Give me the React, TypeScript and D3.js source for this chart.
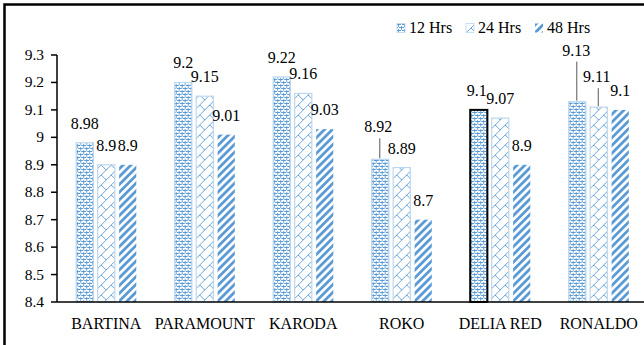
import * as d3 from "d3";

const categories = ["BARTINA", "PARAMOUNT", "KARODA", "ROKO", "DELIA RED", "RONALDO"];
const seriesNames = ["12 Hrs", "24 Hrs", "48 Hrs"];
const hrs12 = [8.98, 9.2, 9.22, 8.92, 9.1, 9.13];
const hrs24 = [8.9, 9.15, 9.16, 8.89, 9.07, 9.11];
const hrs48 = [8.9, 9.01, 9.03, 8.7, 8.9, 9.1];
const yTickValues = [8.4, 8.5, 8.6, 8.7, 8.8, 8.9, 9.0, 9.1, 9.2, 9.3];

// labels that Excel moved away from the bar (extra dx, dy, leader line)
const labelNudge: Record<string, [number, number, boolean]> = {
  "3-0": [-2, -13, true],
  "5-0": [-1, -32, true],
  "5-1": [-2, -11, true],
  "4-0": [-2, 0, false],
};

const blue = "#5b9bd5";
const txt = (size: number) => ({ fontFamily: "Liberation Serif", fontSize: size });

export default function App() {
  const width = 644;
  const height = 345;
  const left = 57, right = 648, top = 55, bottom = 302;
  const values = [hrs12, hrs24, hrs48];

  const x0 = d3.scaleBand<string>()
    .domain(categories)
    .range([left, right])
    .paddingInner(0.39)
    .paddingOuter(0.195);

  const x1 = d3.scaleBand<string>()
    .domain(seriesNames)
    .range([0, x0.bandwidth()])
    .paddingInner(0.2);

  const y = d3.scaleLinear().domain([8.4, 9.3]).range([bottom, top]);

  const fills = ["url(#p12)", "url(#p24)", "url(#p48)"];
  const borders = ["#bdd7ee", "#bdd7ee", "none"];
  const legendX = [397, 466, 535];
  const fmt = (d: number) => String(+d.toFixed(1));

  return (
    <svg
      width={width}
      height={height}
      style={{ position: "fixed", left: 0, top: 0, background: "#fff", display: "block" }}
    >
      <defs>
        <pattern id="p12" patternUnits="userSpaceOnUse" width={6} height={6}>
          <rect width={6} height={6} fill="#fff" />
          <path
            d="M0,2 L1.5,0.5 L3,2 L4.5,0.5 L6,2 M0,5 L1.5,3.5 L3,5 L4.5,3.5 L6,5 M1.5,0.5 L1.5,3.5 M4.5,3.5 L4.5,6"
            stroke={blue} strokeWidth={1} fill="none"
          />
        </pattern>
        <pattern id="p24" patternUnits="userSpaceOnUse" width={10} height={10}>
          <rect width={10} height={10} fill="#fff" />
          <path d="M-1,11 L11,-1 M5,5 L10,10" stroke={blue} strokeWidth={0.9} fill="none" />
        </pattern>
        <pattern id="p48" patternUnits="userSpaceOnUse" width={5.5} height={5.5} patternTransform="rotate(45)">
          <rect width={5.5} height={5.5} fill="#fff" />
          <rect width={2.8} height={5.5} fill={blue} />
        </pattern>
      </defs>

      {/* frame: only top and left edges show */}
      <path d={`M4.5,${height} L4.5,4.5 L${width},4.5`} fill="none" stroke="#000" strokeWidth={2.5} />

      {/* bars */}
      {categories.map((c, i) => (
        <g key={c} transform={`translate(${x0(c)},0)`}>
          {seriesNames.map((s, j) => {
            const v = values[j][i];
            const sel = c === "DELIA RED" && j === 0;
            return (
              <rect
                key={s}
                x={x1(s)}
                y={y(v)}
                width={x1.bandwidth()}
                height={bottom - y(v)}
                fill={fills[j]}
                stroke={sel ? "#000" : borders[j]}
                strokeWidth={sel ? 2 : 1.2}
              />
            );
          })}
        </g>
      ))}

      {/* data labels */}
      {categories.map((c, i) =>
        seriesNames.map((s, j) => {
          const v = values[j][i];
          const cx = x0(c)! + x1(s)! + x1.bandwidth() / 2;
          const topY = y(v);
          const nudge = labelNudge[`${i}-${j}`] || [0, 0, false];
          const ty = topY - 14 + nudge[1];
          return (
            <g key={`${c}-${s}`}>
              <text x={cx + nudge[0]} y={ty} textAnchor="middle" style={txt(16)} fill="#000">
                {String(v)}
              </text>
              {nudge[2] && (
                <line x1={cx - 0.5} x2={cx - 0.5} y1={ty + 6} y2={topY - 1} stroke="#595959" strokeWidth={1} />
              )}
            </g>
          );
        })
      )}

      {/* y axis */}
      <line x1={left} x2={left} y1={top} y2={bottom} stroke="#000" strokeWidth={1.5} />
      {yTickValues.map(t => (
        <g key={t} transform={`translate(0,${y(t)})`}>
          <line x1={left - 6} x2={left} stroke="#000" strokeWidth={1.5} />
          <text x={left - 13} dy="0.32em" textAnchor="end" style={txt(15.5)} fill="#000">
            {fmt(t)}
          </text>
        </g>
      ))}

      {/* x axis */}
      <line x1={left} x2={width} y1={bottom} y2={bottom} stroke="#000" strokeWidth={1.5} />
      {categories.map(c => (
        <text key={c} x={x0(c)! + x0.bandwidth() / 2} y={329} textAnchor="middle" style={txt(16)} fill="#000">
          {c}
        </text>
      ))}

      {/* legend */}
      {seriesNames.map((s, k) => (
        <g key={s} transform={`translate(${legendX[k]},23)`}>
          <rect y={0.5} width={8} height={9} fill={fills[k]} stroke={borders[k]} strokeWidth={0.8} />
          <text x={12} y={10} style={txt(16)} fill="#000">{s}</text>
        </g>
      ))}
    </svg>
  );
}
